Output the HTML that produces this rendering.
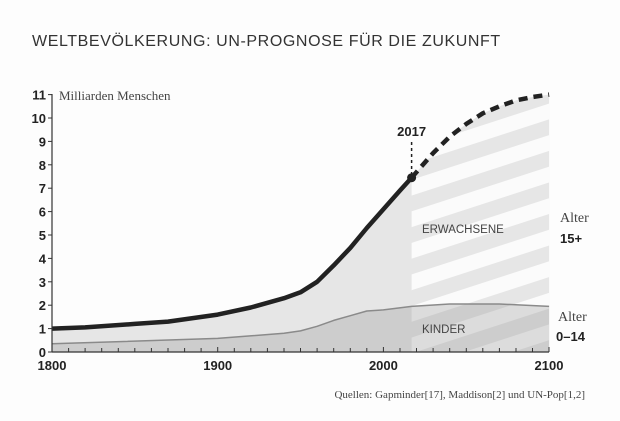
<!DOCTYPE html>
<html><head><meta charset="utf-8"><style>
html,body{margin:0;padding:0;background:#fdfdfd;}
svg{display:block;font-family:"Liberation Sans",sans-serif;}
</style></head><body>
<svg width="620" height="421" viewBox="0 0 620 421" xmlns="http://www.w3.org/2000/svg">
<defs>
<pattern id="st" patternUnits="userSpaceOnUse" width="400" height="30" patternTransform="translate(411,180) rotate(-18)">
<rect x="0" y="0" width="400" height="15" fill="#ffffff" fill-opacity="0.85"/>
</pattern>
<pattern id="st2" patternUnits="userSpaceOnUse" width="400" height="30" patternTransform="translate(411,180) rotate(-18)">
<rect x="0" y="0" width="400" height="15" fill="#ffffff" fill-opacity="0.3"/>
</pattern>
</defs>
<text x="32" y="46" font-size="16" fill="#333" letter-spacing="0.6">WELTBEVÖLKERUNG: UN-PROGNOSE FÜR DIE ZUKUNFT</text>
<path d="M52,328.6 L85.1,327.4 L134.8,323.9 L168,321.6 L217.7,314.6 L250.8,307.5 L284,298.2 L300.5,292.3 L317.1,281.8 L333.7,265.4 L350.3,247.9 L366.8,228 L383.4,209.3 L400,190.5 L411.6,177.7 L433.1,153.1 L449.7,136.7 L466.3,123.9 L482.8,113.3 L499.4,106.3 L516,100.4 L532.5,97 L549.1,94.6 L549.1,352 L52,352 Z" fill="#e6e6e6"/>
<path d="M52,343.8 L217.7,338.4 L284,333.3 L300.5,330.9 L317.1,326.3 L333.7,320.4 L350.3,315.7 L366.8,311 L383.4,309.9 L411.6,306.4 L449.7,304 L499.4,304 L549.1,306.4 L549.1,352 L52,352 Z" fill="#cdcdcd"/>
<path d="M411.6,177.7 L433.1,153.1 L449.7,136.7 L466.3,123.9 L482.8,113.3 L499.4,106.3 L516,100.4 L532.5,97 L549.1,94.6 L549.1,306.4 L499.4,304 L449.7,304 L411.6,306.4 Z" fill="url(#st)"/>
<path d="M411.6,306.4 L449.7,304 L499.4,304 L549.1,306.4 L549.1,352 L411.6,352 Z" fill="url(#st2)"/>
<path d="M52,343.8 L217.7,338.4 L284,333.3 L300.5,330.9 L317.1,326.3 L333.7,320.4 L350.3,315.7 L366.8,311 L383.4,309.9 L411.6,306.4 L449.7,304 L499.4,304 L549.1,306.4" fill="none" stroke="#8a8a8a" stroke-width="1.5" stroke-linejoin="round"/>
<path d="M52,328.6 L85.1,327.4 L134.8,323.9 L168,321.6 L217.7,314.6 L250.8,307.5 L284,298.2 L300.5,292.3 L317.1,281.8 L333.7,265.4 L350.3,247.9 L366.8,228 L383.4,209.3 L400,190.5 L411.6,177.7" fill="none" stroke="#222" stroke-width="4.5" stroke-linejoin="round"/>
<path d="M411.6,177.7 L433.1,153.1 L449.7,136.7 L466.3,123.9 L482.8,113.3 L499.4,106.3 L516,100.4 L532.5,97 L549.1,94.6" fill="none" stroke="#222" stroke-width="4.5" stroke-dasharray="9,6" stroke-linejoin="round"/>
<circle cx="411.6" cy="177.7" r="4.5" fill="#222"/>
<line x1="411.6" y1="142" x2="411.6" y2="175" stroke="#222" stroke-width="1.5" stroke-dasharray="3,3"/>
<text x="411.6" y="136" font-size="13" font-weight="bold" text-anchor="middle" fill="#222">2017</text>
<line x1="52" y1="94" x2="52" y2="352" stroke="#333" stroke-width="1.2"/>
<line x1="52" y1="352" x2="549" y2="352" stroke="#333" stroke-width="1.2"/>
<g stroke="#333" stroke-width="1">
<line x1="48" y1="352" x2="52" y2="352"/><line x1="48" y1="328.6" x2="52" y2="328.6"/><line x1="48" y1="305.2" x2="52" y2="305.2"/><line x1="48" y1="281.8" x2="52" y2="281.8"/><line x1="48" y1="258.4" x2="52" y2="258.4"/><line x1="48" y1="235" x2="52" y2="235"/><line x1="48" y1="211.6" x2="52" y2="211.6"/><line x1="48" y1="188.2" x2="52" y2="188.2"/><line x1="48" y1="164.8" x2="52" y2="164.8"/><line x1="48" y1="141.4" x2="52" y2="141.4"/><line x1="48" y1="118" x2="52" y2="118"/><line x1="48" y1="94.6" x2="52" y2="94.6"/>
</g>
<g font-size="13" font-weight="bold" fill="#222" text-anchor="end">
<text x="46" y="357">0</text><text x="46" y="333.6">1</text><text x="46" y="310.2">2</text><text x="46" y="286.8">3</text><text x="46" y="263.4">4</text><text x="46" y="240">5</text><text x="46" y="216.6">6</text><text x="46" y="193.2">7</text><text x="46" y="169.8">8</text><text x="46" y="146.4">9</text><text x="46" y="123">10</text><text x="46" y="99.6">11</text>
</g>
<g font-size="13" font-weight="bold" fill="#222" text-anchor="middle">
<text x="52" y="370">1800</text><text x="217.7" y="370">1900</text><text x="383.4" y="370">2000</text><text x="549" y="370">2100</text>
</g>
<text x="59" y="100" font-size="13" fill="#444" font-family="Liberation Serif,serif">Milliarden Menschen</text>
<text x="422" y="233" font-size="11.5" fill="#444">ERWACHSENE</text>
<text x="422" y="333" font-size="11.5" fill="#444">KINDER</text>
<text x="560" y="222" font-size="14" fill="#444" font-family="Liberation Serif,serif">Alter</text>
<text x="560" y="243" font-size="13" font-weight="bold" fill="#222">15+</text>
<text x="558" y="321" font-size="14" fill="#444" font-family="Liberation Serif,serif">Alter</text>
<text x="556" y="341" font-size="13" font-weight="bold" fill="#222">0–14</text>
<text x="585" y="398" font-size="11" fill="#444" text-anchor="end" font-family="Liberation Serif,serif">Quellen: Gapminder[17], Maddison[2] und UN-Pop[1,2]</text>
<g stroke="#333" stroke-width="1">
<line x1="68.6" y1="348" x2="68.6" y2="352"/><line x1="85.1" y1="348" x2="85.1" y2="352"/><line x1="101.7" y1="348" x2="101.7" y2="352"/><line x1="118.3" y1="348" x2="118.3" y2="352"/><line x1="134.8" y1="348" x2="134.8" y2="352"/><line x1="151.4" y1="348" x2="151.4" y2="352"/><line x1="168" y1="348" x2="168" y2="352"/><line x1="184.6" y1="348" x2="184.6" y2="352"/><line x1="201.1" y1="348" x2="201.1" y2="352"/><line x1="217.7" y1="347" x2="217.7" y2="352"/><line x1="234.3" y1="348" x2="234.3" y2="352"/><line x1="250.8" y1="348" x2="250.8" y2="352"/><line x1="267.4" y1="348" x2="267.4" y2="352"/><line x1="284" y1="348" x2="284" y2="352"/><line x1="300.5" y1="348" x2="300.5" y2="352"/><line x1="317.1" y1="348" x2="317.1" y2="352"/><line x1="333.7" y1="348" x2="333.7" y2="352"/><line x1="350.3" y1="348" x2="350.3" y2="352"/><line x1="366.8" y1="348" x2="366.8" y2="352"/><line x1="383.4" y1="347" x2="383.4" y2="352"/><line x1="400" y1="348" x2="400" y2="352"/><line x1="416.5" y1="348" x2="416.5" y2="352"/><line x1="433.1" y1="348" x2="433.1" y2="352"/><line x1="449.7" y1="348" x2="449.7" y2="352"/><line x1="466.3" y1="348" x2="466.3" y2="352"/><line x1="482.8" y1="348" x2="482.8" y2="352"/><line x1="499.4" y1="348" x2="499.4" y2="352"/><line x1="516" y1="348" x2="516" y2="352"/><line x1="532.5" y1="348" x2="532.5" y2="352"/><line x1="549" y1="347" x2="549" y2="352"/>
</g>
</svg>
</body></html>
